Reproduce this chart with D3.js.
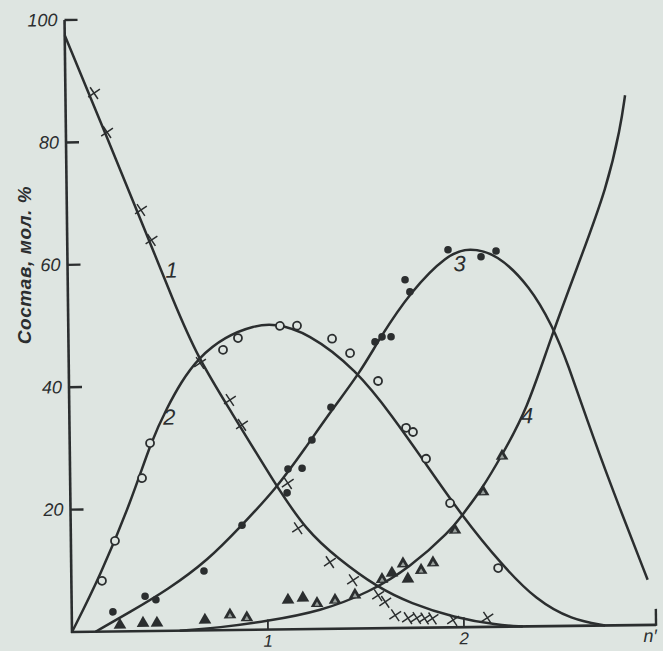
<!DOCTYPE html>
<html><head><meta charset="utf-8">
<script src="https://cdn.jsdelivr.net/npm/d3@7"></script>
<style>
html,body{margin:0;padding:0;background:#dee5e1;}
svg{display:block;}
text{font-family:"Liberation Sans Narrow","Liberation Sans","DejaVu Sans",sans-serif;font-style:italic;fill:#2b2e2f;}
</style></head>
<body>
<svg id="c" width="663" height="651"></svg>
<script>
// ---- data (x = n', y = composition, mol. %) ----
const curve1 = [[0,97.5],[0.2,81.5],[0.4,65.3],[0.536,54],[0.66,44.5],[0.82,36],[1.05,23.5],[1.2,16.2],[1.36,11.5],[1.56,6.7],[1.73,4.0],[1.95,1.6],[2.17,0.3],[2.3,0]];
const curve2 = [[0,0],[0.146,9],[0.313,21.5],[0.418,31.2],[0.5,36.5],[0.57,40.5],[0.66,44.5],[0.8,48],[0.95,49.7],[1.05,50],[1.22,48.5],[1.47,42.2],[1.65,34.5],[1.79,28],[2.0,18],[2.2,10],[2.37,4.3],[2.55,1],[2.72,0]];
const curve3 = [[0.12,0],[0.3,3.2],[0.49,6.7],[0.7,11.5],[0.87,17],[1.05,23],[1.2,29.5],[1.34,35.8],[1.49,42],[1.59,47.5],[1.75,55],[1.94,61],[2.05,62],[2.19,61],[2.36,55.5],[2.47,49],[2.54,43.5],[2.675,30.3],[2.8,19.3],[2.94,7.4]];
const curve4 = [[0.55,0],[0.75,0.4],[1.0,1.4],[1.27,2.9],[1.52,5.9],[1.73,9.9],[1.94,15.9],[1.99,18],[2.1,22.5],[2.2,27.8],[2.335,35.4],[2.457,46.8],[2.615,59.8],[2.757,71.6],[2.83,81.4],[2.855,86.6]];

const crosses = [[0.146,88],[0.21,81.6],[0.378,68.8],[0.43,63.9],[0.67,43.7],[0.82,37.6],[0.88,33.5],[1.11,23.9],[1.16,16.5],[1.32,10.9],[1.437,7.9],[1.564,5.4],[1.6,4.3],[1.65,2.1],[1.715,1.6],[1.76,1.6],[1.8,1.5],[1.84,1.5],[1.945,1.2],[2.12,1.5]];
const openCircles = [[0.156,8.3],[0.225,14.8],[0.367,25],[0.41,30.7],[0.788,45.8],[0.865,47.7],[1.08,49.6],[1.167,49.6],[1.345,47.4],[1.436,45],[1.577,40.4],[1.717,32.7],[1.752,32],[1.817,27.6],[1.937,20.3],[2.178,9.6]];
const filledDots = [[0.21,3.2],[0.375,5.7],[0.43,5.1],[0.677,9.7],[0.874,17.1],[1.106,22.3],[1.112,26.2],[1.184,26.3],[1.236,30.9],[1.335,36.2],[1.564,46.8],[1.6,47.6],[1.646,47.6],[1.721,56.9],[1.745,54.9],[1.942,61.7],[2.11,60.5],[2.187,61.4]];
const filledTriangles = [[0.245,1.05],[0.363,1.3],[0.434,1.3],[0.679,1.7],[1.104,4.8],[1.18,5.1],[1.636,9.0],[1.717,8.0]];
const openTriangles = [[0.807,2.5],[0.893,2.0],[1.252,4.2],[1.344,4.7],[1.446,5.5],[1.585,8.0],[1.693,10.5],[1.785,9.4],[1.846,10.6],[1.96,15.9],[2.106,22.1],[2.205,27.9]];

const curveLabels = [["1",0.53,59],["2",0.51,35],["3",2.0,59.5],["4",2.335,34.5]];
const yTicks = [20,40,60,80,100];
const xTicks = [1,2];
const xTickLabels = ["1","2"];
const xEnd = 2.98;
const xEndLabel = "n\u2032";
const yTitle = "Состав, мол. %";

// ---- drawing ----
const ink = "#2b2e2f";
const bg = "#dee5e1";
const svg = d3.select("#c");
const g = svg.append("g").attr("transform","translate(72,632) rotate(-0.7)");
const x = d3.scaleLinear().domain([0,3]).range([0,588]);
const y = d3.scaleLinear().domain([0,100]).range([0,-612]);

// axes
g.append("line").attr("x1",x(0)).attr("y1",y(0)+1).attr("x2",x(0)).attr("y2",y(100))
  .attr("stroke",ink).attr("stroke-width",2.6);
g.append("line").attr("x1",x(0)-1).attr("y1",y(0)).attr("x2",x(xEnd)).attr("y2",y(0))
  .attr("stroke",ink).attr("stroke-width",2.6);
g.append("line").attr("x1",x(xEnd)).attr("y1",y(0)+1).attr("x2",x(xEnd)).attr("y2",y(0)-16)
  .attr("stroke",ink).attr("stroke-width",2.4);

g.selectAll(".yt").data(yTicks).enter().append("line")
  .attr("x1",x(0)).attr("x2",x(0)+13).attr("y1",d=>y(d)).attr("y2",d=>y(d))
  .attr("stroke",ink).attr("stroke-width",2.4);
g.selectAll(".ytl").data(yTicks).enter().append("text")
  .attr("x",x(0)-7).attr("y",d=>y(d)+6).attr("text-anchor","end")
  .attr("font-size",18).text(d=>d);

g.selectAll(".xt").data(xTicks).enter().append("line")
  .attr("x1",d=>x(d)).attr("x2",d=>x(d)).attr("y1",y(0)).attr("y2",y(0)-10)
  .attr("stroke",ink).attr("stroke-width",1.8);
g.selectAll(".xtl").data(xTicks).enter().append("text")
  .attr("x",d=>x(d)).attr("y",y(0)+17).attr("text-anchor","middle")
  .attr("font-size",17).text((d,i)=>xTickLabels[i]);
g.append("text").attr("x",x(xEnd)-6).attr("y",y(0)+17).attr("text-anchor","middle")
  .attr("font-size",18).text(xEndLabel);

svg.append("text").attr("transform","translate(31,265) rotate(-90)")
  .attr("text-anchor","middle").attr("font-size",19).attr("font-weight","bold")
  .attr("letter-spacing",0.6).text(yTitle);

// curves
const line = d3.line().x(d=>x(d[0])).y(d=>y(d[1])).curve(d3.curveBasis);
[curve1,curve2,curve3,curve4].forEach(c=>{
  g.append("path").attr("d",line(c)).attr("fill","none")
   .attr("stroke",ink).attr("stroke-width",2.5).attr("stroke-linejoin","round");
});

// markers
g.selectAll(".cr").data(crosses).enter().append("path")
  .attr("transform",d=>`translate(${x(d[0])},${y(d[1])}) rotate(12)`)
  .attr("d","M-5,-5L5,5M-5,5L5,-5").attr("stroke",ink).attr("stroke-width",1.5).attr("fill","none");
g.selectAll(".oc").data(openCircles).enter().append("circle")
  .attr("cx",d=>x(d[0])).attr("cy",d=>y(d[1])).attr("r",4)
  .attr("fill",bg).attr("stroke",ink).attr("stroke-width",1.8);
g.selectAll(".fd").data(filledDots).enter().append("circle")
  .attr("cx",d=>x(d[0])).attr("cy",d=>y(d[1])).attr("r",3.8).attr("fill",ink);
const tri = d3.symbol().type(d3.symbolTriangle).size(70);
const triIn = d3.symbol().type(d3.symbolTriangle).size(10);
g.selectAll(".ft").data(filledTriangles).enter().append("path")
  .attr("transform",d=>`translate(${x(d[0])},${y(d[1])})`).attr("d",tri()).attr("fill",ink);
g.selectAll(".ot").data(openTriangles).enter().append("path")
  .attr("transform",d=>`translate(${x(d[0])},${y(d[1])})`).attr("d",tri()).attr("fill",ink);
g.selectAll(".oti").data(openTriangles).enter().append("path")
  .attr("transform",d=>`translate(${x(d[0])},${y(d[1])+1})`).attr("d",triIn()).attr("fill","#9aa19e");

// curve labels
g.selectAll(".cl").data(curveLabels).enter().append("text")
  .attr("x",d=>x(d[1])).attr("y",d=>y(d[2])+8).attr("text-anchor","middle")
  .attr("font-size",22).text(d=>d[0]);
</script>
</body></html>
